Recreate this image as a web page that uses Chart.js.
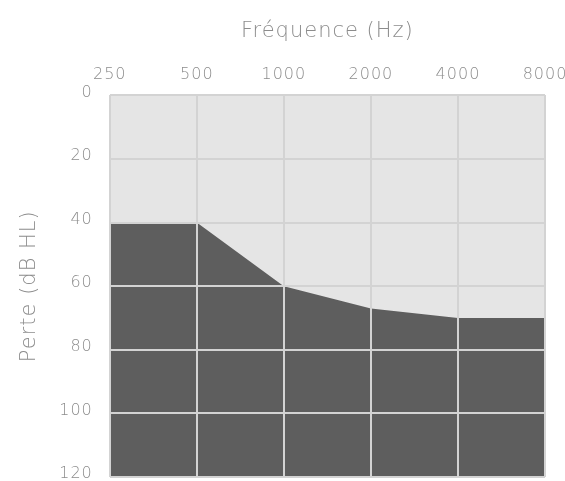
<!DOCTYPE html>
<html>
<head>
<meta charset="utf-8">
<script src="https://cdn.jsdelivr.net/npm/chart.js@4"></script>
<style>
  html, body { margin: 0; padding: 0; background: #fff; }
  #wrap { width: 565px; height: 481px; }
</style>
</head>
<body>
<div id="wrap"><canvas id="chart"></canvas></div>
<script>
const frequencies = ["250", "500", "1000", "2000", "4000", "8000"];
const lossValues = [40, 40, 60, 67, 70, 70];
const lossTicks = [0, 20, 40, 60, 80, 100, 120];

// light grey plot background
const plotBackground = {
  id: "plotBackground",
  beforeDraw(chart) {
    const { ctx, chartArea } = chart;
    ctx.save();
    ctx.fillStyle = "#e5e5e5";
    ctx.fillRect(chartArea.left, chartArea.top,
      chartArea.right - chartArea.left, chartArea.bottom - chartArea.top);
    ctx.restore();
  },
};

// the original text is spaced out a little
const wideText = {
  id: "wideText",
  beforeLayout(chart) {
    chart.ctx.letterSpacing = "1px";
  },
  beforeDraw(chart) {
    chart.ctx.letterSpacing = "1px";
  },
};

const tickFont = { family: "DejaVu Sans", size: 16, weight: 200 };
const titleFont = { family: "DejaVu Sans", size: 21, weight: 200 };
const textColor = "#8c8c8c";
const gridColor = "#d3d3d3";

new Chart("chart", {
  type: "line",
  data: {
    labels: frequencies,
    datasets: [
      {
        label: "Perte",
        data: lossValues,
        borderWidth: 0,
        borderColor: "#5e5e5e",
        backgroundColor: "#5e5e5e",
        pointRadius: 0,
        fill: { value: 120 },
        tension: 0,
      },
    ],
  },
  options: {
    responsive: true,
    maintainAspectRatio: false,
    animation: false,
    layout: { padding: { left: 13, right: 20, top: 15, bottom: 4 } },
    plugins: {
      legend: { display: false },
      tooltip: { enabled: false },
    },
    scales: {
      x: {
        position: "top",
        offset: false,
        grid: { color: gridColor, lineWidth: 2, drawTicks: false, z: 1 },
        border: { display: false },
        ticks: { color: textColor, font: tickFont, padding: 11, maxRotation: 0 },
        title: {
          display: true,
          text: "Fréquence (Hz)",
          color: textColor,
          font: titleFont,
          padding: { bottom: 10 },
        },
        afterFit(axis) {
          axis.paddingLeft = 0;
          axis.paddingRight = 0;
        },
      },
      y: {
        reverse: true,
        min: 0,
        max: 120,
        afterBuildTicks(axis) {
          axis.ticks = lossTicks.map((v) => ({ value: v }));
        },
        grid: { color: gridColor, lineWidth: 2, drawTicks: false, z: 1 },
        border: { display: false },
        ticks: { color: textColor, font: tickFont, padding: 17, labelOffset: -3 },
        title: {
          display: true,
          text: "Perte (dB HL)",
          color: textColor,
          font: titleFont,
          padding: { bottom: 0 },
        },
        afterFit(axis) {
          axis.paddingTop = 0;
          axis.paddingBottom = 0;
        },
      },
    },
  },
  plugins: [plotBackground, wideText],
});
</script>
</body>
</html>
